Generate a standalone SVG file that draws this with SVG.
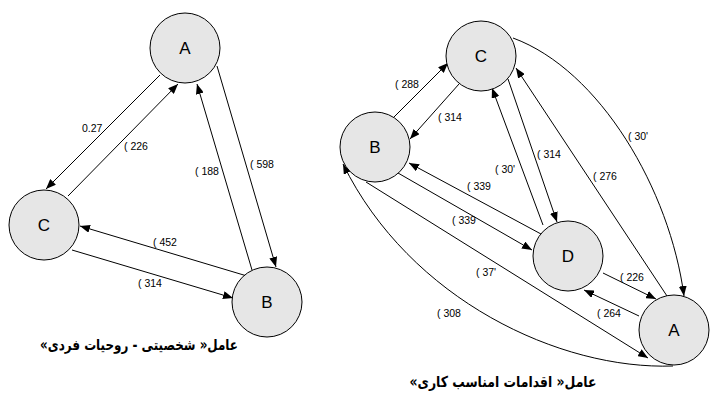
<svg xmlns="http://www.w3.org/2000/svg" width="717" height="405" viewBox="0 0 717 405">
<style>
.node circle{fill:#e6e6e6;stroke:#000;stroke-width:1}
.node text{font-family:"Liberation Sans",Arial,sans-serif;font-size:17px;fill:#000;text-anchor:middle}
.edges path{fill:none;stroke:#000;stroke-width:1;marker-end:url(#arr)}
.lbl{font-family:"Liberation Sans",Arial,sans-serif;font-size:10.5px;fill:#000}
.cap{font-family:"DejaVu Sans",sans-serif;font-weight:bold;font-size:15px;fill:#000;text-anchor:middle}
</style>
<defs>
<marker id="arr" viewBox="0 0 10 8" refX="10" refY="4" markerWidth="10" markerHeight="8" markerUnits="userSpaceOnUse" orient="auto">
<path d="M0,0 L10,4 L0,8 z" fill="#000"/>
</marker>
</defs>
<rect width="717" height="405" fill="#fff"/>
<g class="edges" id="edges-left">
<path d="M160,75 L46,189"/>
<path d="M68,196 L178,84"/>
<path d="M252,270 L197,84"/>
<path d="M217,66 L276,267"/>
<path d="M247,276 L80,226"/>
<path d="M72,250 L233,298"/>
</g>
<g id="labels-left">
<text class="lbl" x="82" y="132">0.27</text>
<text class="lbl" x="124" y="150">( 226</text>
<text class="lbl" x="195" y="175">( 188</text>
<text class="lbl" x="250" y="168">( 598</text>
<text class="lbl" x="153" y="246">( 452</text>
<text class="lbl" x="138" y="287">( 314</text>
</g>
<g id="nodeA1" class="node"><circle cx="185" cy="48" r="35"/><text x="185" y="54">A</text></g>
<g id="nodeC1" class="node"><circle cx="44" cy="225" r="35"/><text x="44" y="231">C</text></g>
<g id="nodeB1" class="node"><circle cx="267" cy="302" r="35"/><text x="267" y="308">B</text></g>
<text class="cap" x="139" y="350" direction="rtl" textLength="198" lengthAdjust="spacingAndGlyphs">عامل« شخصیتی - روحیات فردی»</text>

<g class="edges" id="edges-right">
<path d="M394,117 L448,63"/>
<path d="M459,84 L410,139"/>
<path d="M543,225 L492,88"/>
<path d="M508,79 L557,222"/>
<path d="M667,296 L516,68"/>
<path d="M513,38 C600,70 670,190 684,296"/>
<path d="M541,234 L409,163"/>
<path d="M398,173 L532,250"/>
<path d="M366,182 L648,358"/>
<path d="M673,366 C560,370 410,300 343,164"/>
<path d="M603,273 L656,299"/>
<path d="M639,316 L584,290"/>
</g>
<g id="labels-right">
<text class="lbl" x="395" y="88">( 288</text>
<text class="lbl" x="438" y="121">( 314</text>
<text class="lbl" x="495" y="173">( 30'</text>
<text class="lbl" x="537" y="158">( 314</text>
<text class="lbl" x="593" y="180">( 276</text>
<text class="lbl" x="628" y="140">( 30'</text>
<text class="lbl" x="467" y="190">( 339</text>
<text class="lbl" x="452" y="224">( 339</text>
<text class="lbl" x="476" y="276">( 37'</text>
<text class="lbl" x="437" y="317">( 308</text>
<text class="lbl" x="620" y="281">( 226</text>
<text class="lbl" x="597" y="317">( 264</text>
</g>
<g id="nodeC2" class="node"><circle cx="481" cy="56" r="35"/><text x="481" y="62">C</text></g>
<g id="nodeB2" class="node"><circle cx="375" cy="147" r="35"/><text x="375" y="153">B</text></g>
<g id="nodeD2" class="node"><circle cx="568" cy="256" r="35"/><text x="568" y="262">D</text></g>
<g id="nodeA2" class="node"><circle cx="674" cy="330" r="35"/><text x="674" y="336">A</text></g>
<text class="cap" x="503" y="387" direction="rtl" textLength="187" lengthAdjust="spacingAndGlyphs">عامل« اقدامات امناسب کاری»</text>
</svg>
